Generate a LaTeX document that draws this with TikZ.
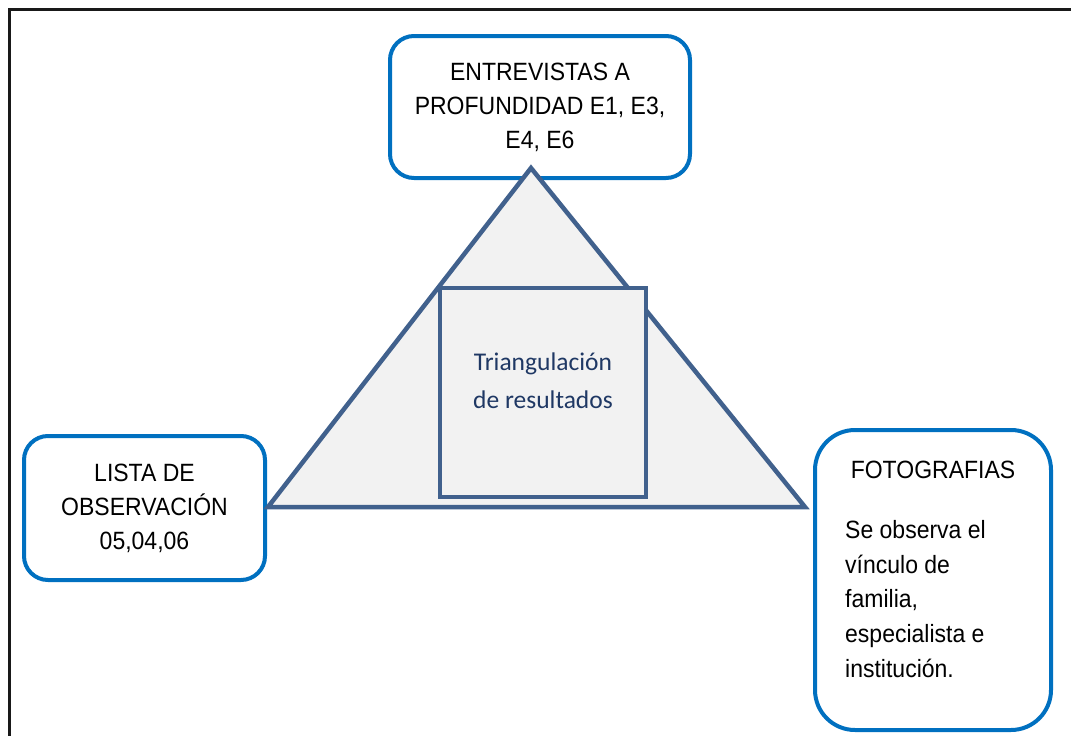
\documentclass[tikz,border=0pt]{standalone}
\usepackage{fontspec}
\setmainfont[FakeStretch=0.92]{Liberation Sans}
\newfontfamily\calibri{Carlito}
\usetikzlibrary{positioning}
\definecolor{bordeazul}{RGB}{0,112,192}
\definecolor{azultri}{RGB}{65,97,141}
\definecolor{grisrelleno}{RGB}{242,242,242}
\definecolor{textoazul}{RGB}{31,56,100}
\begin{document}
\begin{tikzpicture}[x=1pt,y=-1pt,
    caja/.style={draw=bordeazul,line width=4pt,rounded corners=24pt,fill=white,align=center,font=\fontsize{25}{34}\selectfont},
    forma/.style={draw=azultri,line width=4.5pt,fill=grisrelleno,line join=miter},
    texto/.style={font=\fontsize{25}{34.75}\selectfont,inner sep=0pt}]
    \clip (0,0) rectangle (1071,736);
    \draw[line width=3pt,black!90] (9.5,9.5) rectangle (1100,760);
    % fuentes
    \node[caja,minimum width=300pt,minimum height=142pt] (entrevistas) at (540,107) {ENTREVISTAS A\\PROFUNDIDAD E1, E3,\\E4, E6};
    \node[caja,minimum width=241pt,minimum height=144pt] (lista) at (144.5,508) {LISTA DE\\OBSERVACIÓN\\05,04,06};
    \node[caja,minimum width=236pt,minimum height=300pt,rounded corners=40pt] (foto) at (933,580) {};
    \node[texto] (fototit) at ([yshift=-42pt]foto.north) {FOTOGRAFIAS};
    \node[texto,align=left,anchor=north west] (fotodesc) at (845,520) {Se observa el\\vínculo de\\familia,\\especialista e\\institución.};
    % triangulo
    \coordinate (vsup) at (531,168);
    \coordinate (vizq) at (268,507);
    \coordinate (vder) at (805,507);
    \draw[forma] (vsup) -- (vizq) -- (vder) -- cycle;
    \node[forma,minimum width=206pt,minimum height=209pt] (cuadro) at (543,392.5) {};
    \node[font=\calibri\fontsize{25.5}{38}\selectfont,text=textoazul,align=center,inner sep=0pt] (resultados) at (543,381) {Triangulación\\de resultados};
\end{tikzpicture}
\end{document}
